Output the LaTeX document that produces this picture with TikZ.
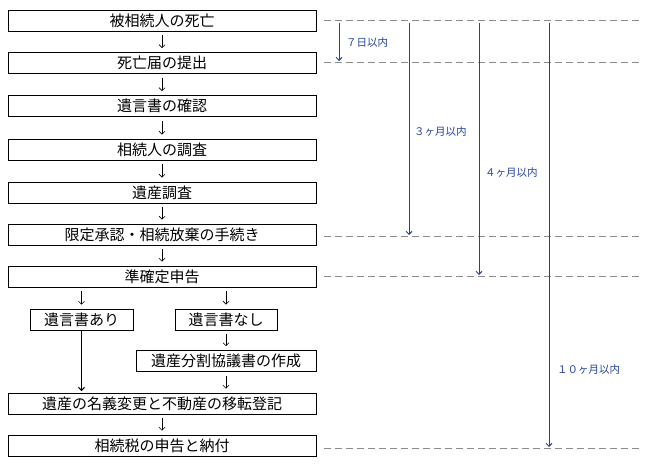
\documentclass[tikz,border=0pt]{standalone}
\usepackage{fontspec}
\setmainfont{Noto Sans CJK JP}
\usetikzlibrary{arrows.meta}
\definecolor{lineblue}{RGB}{35,65,160}
\definecolor{dashgray}{RGB}{140,140,140}
\begin{document}
\begin{tikzpicture}[x=1pt,y=-1pt,
 box/.style={draw=black,line width=0.8pt,minimum height=21pt,inner sep=0pt,font=\fontsize{15}{18}\selectfont,anchor=center},
 mainbox/.style={box,minimum width=308pt},
 flow/.style={-{Straight Barb[length=3pt,width=6pt]},line width=0.6pt,shorten <=4pt,shorten >=4pt},
 longflow/.style={-{Straight Barb[length=3pt,width=6pt]},line width=1.1pt,shorten >=1.5pt},
 guide/.style={dashgray,dash pattern=on 7pt off 4pt,line width=0.8pt},
 period/.style={lineblue,line width=1pt,-{Straight Barb[length=3pt,width=6pt]}},
 plabel/.style={lineblue,font=\fontsize{10.5}{12}\selectfont,anchor=west,inner sep=0pt}]
\useasboundingbox (0,0) rectangle (652,465);
% main boxes
\node[mainbox] (b1) at (162,20.5) {被相続人の死亡};
\node[mainbox] (b2) at (162,63) {死亡届の提出};
\node[mainbox] (b3) at (162,106) {遺言書の確認};
\node[mainbox] (b4) at (162,149.5) {相続人の調査};
\node[mainbox] (b5) at (162,192.5) {遺産調査};
\node[mainbox] (b6) at (162,234.5) {限定承認・相続放棄の手続き};
\node[mainbox] (b7) at (162,276.5) {準確定申告};
\node[box,minimum width=103pt] (ari) at (81.5,319.5) {遺言書あり};
\node[box,minimum width=102pt] (nashi) at (226,319.5) {遺言書なし};
\node[box,minimum width=180pt] (bunkatsu) at (226,361) {遺産分割協議書の作成};
\node[mainbox] (meigi) at (162,403.5) {遺産の名義変更と不動産の移転登記};
\node[mainbox] (zei) at (162,445.5) {相続税の申告と納付};
% flow arrows
\draw[flow] (b1) -- (b2);
\draw[flow] (b2) -- (b3);
\draw[flow] (b3) -- (b4);
\draw[flow] (b4) -- (b5);
\draw[flow] (b5) -- (b6);
\draw[flow] (b6) -- (b7);
\draw[flow] (b7.south -| ari.north) -- (ari.north);
\draw[flow] (b7.south -| nashi.north) -- (nashi.north);
\draw[flow] (nashi) -- (bunkatsu);
\draw[longflow] (ari.south) -- (ari.south |- meigi.north);
\draw[flow] (bunkatsu.south) -- (bunkatsu.south |- meigi.north);
\draw[flow] (meigi) -- (zei);
% guide lines
\coordinate (g1a) at (324,20);  \coordinate (g1b) at (640,20);
\coordinate (g2a) at (324,62);  \coordinate (g2b) at (640,62);
\coordinate (g3a) at (324,236); \coordinate (g3b) at (640,236);
\coordinate (g4a) at (324,276); \coordinate (g4b) at (640,276);
\coordinate (g5a) at (324,448); \coordinate (g5b) at (640,448);
\draw[guide] (g1a) -- (g1b);
\draw[guide] (g2a) -- (g2b);
\draw[guide] (g3a) -- (g3b);
\draw[guide] (g4a) -- (g4b);
\draw[guide] (g5a) -- (g5b);
% period arrows
\coordinate (p1s) at (339,23); \coordinate (p1e) at (339,61);
\coordinate (p2s) at (409,23); \coordinate (p2e) at (409,235);
\coordinate (p3s) at (479,23); \coordinate (p3e) at (479,275);
\coordinate (p4s) at (549,23); \coordinate (p4e) at (549,447);
\draw[period] (p1s) -- (p1e);
\draw[period] (p2s) -- (p2e);
\draw[period] (p3s) -- (p3e);
\draw[period] (p4s) -- (p4e);
\node[plabel] (l1) at (346,43) {７日以内};
\node[plabel] (l2) at (414,132) {３ヶ月以内};
\node[plabel] (l3) at (485,173) {４ヶ月以内};
\node[plabel] (l4) at (557,370) {１０ヶ月以内};
\end{tikzpicture}
\end{document}
